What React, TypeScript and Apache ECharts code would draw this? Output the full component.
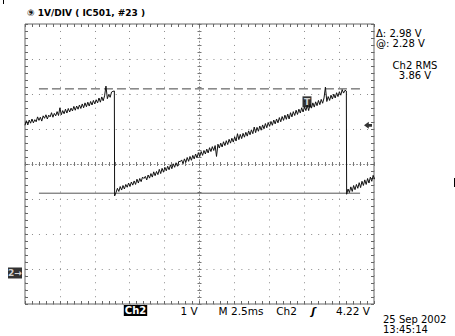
import React, { useEffect, useRef } from "react";
import * as echarts from "echarts";

// ---- data ----
const SAMPLE_STEP_MS = 0.1;
const rampAStartMs = 0;
const rampAVolts = [
  4.22, 4.35, 4.23, 4.37, 4.28, 4.4, 4.29, 4.38, 4.32, 4.46, 4.36, 4.45, 4.34, 4.49, 4.42, 4.52, 4.4,
  4.51, 4.46, 4.58, 4.45, 4.56, 4.49, 4.61, 4.5, 4.72, 4.52, 4.64, 4.55, 4.68, 4.57, 4.7, 4.6, 4.71,
  4.63, 4.76, 4.65, 4.77, 4.68, 4.8, 4.7, 4.83, 4.72, 4.86, 4.75, 4.88, 4.77, 4.9, 4.8, 4.93, 4.83,
  4.95, 4.86, 5.0, 4.88, 5.03, 4.92, 5.06, 5.34, 4.98, 5.1, 5.02, 5.17, 5.19, 5.2,
];
const rampBStartMs = 6.42;
const rampBVolts = [
  2.2, 2.3, 2.42, 2.33, 2.47, 2.37, 2.5, 2.4, 2.53, 2.45, 2.57, 2.47, 2.6, 2.51, 2.63, 2.53, 2.68,
  2.57, 2.7, 2.61, 2.74, 2.7, 2.76, 2.66, 2.8, 2.71, 2.84, 2.74, 2.89, 2.78, 2.9, 2.81, 2.96, 2.84,
  2.99, 2.88, 3.02, 2.92, 3.05, 2.95, 3.09, 2.98, 3.12, 3.02, 3.15, 3.05, 3.19, 3.18, 3.23, 3.12,
  3.26, 3.16, 3.3, 3.19, 3.33, 3.22, 3.36, 3.26, 3.4, 3.29, 3.44, 3.33, 3.47, 3.36, 3.5, 3.4, 3.54,
  3.43, 3.58, 3.47, 3.61, 3.5, 3.64, 3.33, 3.68, 3.57, 3.71, 3.6, 3.75, 3.64, 3.78, 3.67, 3.82, 3.71,
  3.85, 3.74, 3.89, 3.77, 3.98, 3.81, 3.96, 3.84, 3.99, 3.88, 4.02, 3.91, 4.06, 3.95, 4.09, 3.98,
  4.17, 4.01, 4.16, 4.05, 4.2, 4.08, 4.23, 4.12, 4.27, 4.15, 4.3, 4.19, 4.33, 4.22, 4.37, 4.26, 4.4,
  4.29, 4.44, 4.32, 4.47, 4.36, 4.51, 4.39, 4.54, 4.4, 4.58, 4.46, 4.61, 4.5, 4.65, 4.53, 4.68, 4.57,
  4.72, 4.6, 4.75, 4.64, 4.79, 4.64, 4.82, 4.71, 4.86, 4.74, 4.89, 4.78, 4.93, 4.81, 4.96, 4.85, 5.0,
  5.31, 4.9, 5.04, 4.93, 5.08, 4.97, 5.11, 5.0, 5.15, 5.04, 5.18, 5.08, 5.24, 5.14, 5.22, 5.2,
];
const rampCStartMs = 23.04;
const rampCVolts = [
  2.25, 2.4, 2.3, 2.46, 2.33, 2.5, 2.38, 2.53, 2.42, 2.58, 2.44, 2.62, 2.5, 2.66, 2.53, 2.7, 2.57,
  2.74, 2.62, 2.79, 2.68,
];

const timeRangeMs = [0, 25];
const voltRange = [-0.886, 7.114];
const cursorSpanMs = [1.0, 24.0];
const cursorLowV = 2.28;
const cursorHighV = 5.26;
const triggerLevelV = 4.22;
const triggerPoint = [20.2, 4.89];
const groundV = 0;

const titleText = "⑨ 1V/DIV ( IC501, #23 )";
const readouts = ["Δ: 2.98 V", "@: 2.28 V"];
const rmsTexts = ["Ch2 RMS", "3.86 V"];
const bottomTexts = ["1 V", "M 2.5ms", "Ch2", "ʃ", "4.22 V"];
const dateTexts = ["25 Sep 2002", "13:45:14"];

function buildSeg(start: number, vals: number[]) {
  return vals.map((v, i) => [+(start + i * SAMPLE_STEP_MS).toFixed(3), v]);
}

const DOT = "#8c8c8c";
const FRAME = "#666";
const FONT = "DejaVu Sans";

export default function App() {
  const ref = useRef<HTMLDivElement>(null);
  useEffect(() => {
    if (!ref.current) return;
    const chart = echarts.init(ref.current, null, { renderer: "svg" });
    const trace = [
      ...buildSeg(rampAStartMs, rampAVolts),
      ...buildSeg(rampBStartMs, rampBVolts),
      ...buildSeg(rampCStartMs, rampCVolts),
    ];
    const hidden = { show: false };
    const frameAxisX = (pos: string, extra: any = {}) => ({
      type: "value",
      min: -5,
      max: 5,
      interval: 1,
      position: pos,
      axisLine: { show: false, onZero: false },
      axisLabel: { show: false },
      axisTick: { show: true, inside: true, length: 3, lineStyle: { color: FRAME } },
      minorTick: { show: true, splitNumber: 5, length: 3, lineStyle: { color: FRAME } },
      splitLine: { show: false },
      ...extra,
    });
    const frameAxisY = (pos: string, extra: any = {}) => ({
      type: "value",
      min: -4,
      max: 4,
      interval: 1,
      position: pos,
      axisLine: { show: false, onZero: false },
      axisLabel: { show: false },
      axisTick: { show: true, inside: true, length: 3, lineStyle: { color: FRAME } },
      minorTick: { show: true, splitNumber: 5, length: 3, lineStyle: { color: FRAME } },
      splitLine: { show: false },
      ...extra,
    });
    const dotted = { show: true, lineStyle: { color: DOT, width: 1, type: [1, 5.98] } };
    const centerLine = {
      show: true,
      onZero: true,
      onZeroAxisIndex: 0,
      lineStyle: { color: DOT, width: 1, type: [1, 2.49] },
    };
    const centerTick = { show: true, inside: false, length: 2, lineStyle: { color: "#777" } };
    const centerMinor = { show: true, splitNumber: 5, length: 2, lineStyle: { color: "#777" } };

    const option: any = {
      animation: false,
      backgroundColor: "#fff",
      grid: {
        left: 25,
        top: 24,
        width: 349,
        height: 280,
        show: true,
        borderColor: FRAME,
        borderWidth: 1,
        backgroundColor: "transparent",
      },
      xAxis: [
        frameAxisX("bottom", { splitLine: dotted }),
        frameAxisX("top"),
        frameAxisX("bottom", { axisLine: centerLine, axisTick: centerTick, minorTick: centerMinor }),
        frameAxisX("top", {
          axisLine: { show: false, onZero: true, onZeroAxisIndex: 0 },
          axisTick: centerTick,
          minorTick: centerMinor,
        }),
        {
          type: "value",
          min: timeRangeMs[0],
          max: timeRangeMs[1],
          show: false,
          axisLine: { onZero: false },
          splitLine: hidden,
        },
      ],
      yAxis: [
        frameAxisY("left", { splitLine: dotted }),
        frameAxisY("right"),
        frameAxisY("left", { axisLine: centerLine, axisTick: centerTick, minorTick: centerMinor }),
        frameAxisY("right", {
          axisLine: { show: false, onZero: true, onZeroAxisIndex: 0 },
          axisTick: centerTick,
          minorTick: centerMinor,
        }),
        {
          type: "value",
          min: voltRange[0],
          max: voltRange[1],
          show: false,
          axisLine: { onZero: false },
          splitLine: hidden,
        },
      ],
      series: [
        {
          type: "line",
          xAxisIndex: 4,
          yAxisIndex: 4,
          data: [
            [cursorSpanMs[0], cursorLowV],
            [cursorSpanMs[1], cursorLowV],
          ],
          showSymbol: false,
          silent: true,
          lineStyle: { color: "#555", width: 1 },
        },
        {
          type: "line",
          xAxisIndex: 4,
          yAxisIndex: 4,
          data: [
            [cursorSpanMs[0], cursorHighV],
            [cursorSpanMs[1], cursorHighV],
          ],
          showSymbol: false,
          silent: true,
          lineStyle: { color: "#444", width: 1, type: [9, 4] },
        },
        {
          type: "line",
          xAxisIndex: 4,
          yAxisIndex: 4,
          data: trace,
          showSymbol: false,
          silent: true,
          lineStyle: { color: "#111", width: 1 },
        },
        {
          type: "scatter",
          xAxisIndex: 4,
          yAxisIndex: 4,
          data: [[timeRangeMs[1], triggerLevelV]],
          symbol: "path://M0,5 L6,0 L6,3 L10,3 L10,7 L6,7 L6,10 Z",
          symbolSize: [8, 7],
          symbolOffset: [-6, 0],
          itemStyle: { color: "#000" },
          clip: false,
          silent: true,
        },
        {
          type: "scatter",
          xAxisIndex: 4,
          yAxisIndex: 4,
          data: [[timeRangeMs[0], groundV]],
          symbol: "rect",
          symbolSize: [14, 11],
          symbolOffset: [-10, 0],
          itemStyle: { color: "#000" },
          clip: false,
          silent: true,
          label: {
            show: true,
            position: "inside",
            formatter: "2→",
            color: "#fff",
            fontFamily: FONT,
            fontSize: 9,
            fontWeight: "bold",
          },
        },
        {
          type: "scatter",
          xAxisIndex: 4,
          yAxisIndex: 4,
          data: [triggerPoint],
          symbol: "rect",
          symbolSize: [9, 11],
          itemStyle: { color: "#000" },
          silent: true,
          label: {
            show: true,
            position: "inside",
            formatter: "T",
            color: "#fff",
            fontFamily: FONT,
            fontSize: 9,
            fontWeight: "bold",
          },
        },
      ],
      graphic: [
        {
          type: "text",
          left: 27,
          top: 8,
          style: { text: titleText, font: `bold 9px ${FONT}`, fill: "#000" },
        },
        ...readouts.map((t, i) => ({
          type: "text",
          x: 376,
          y: 33 + i * 10,
          style: {
            text: t,
            font: `10px ${FONT}`,
            lineHeight: 9,
            fill: "#000",
            verticalAlign: "middle",
          },
        })),
        ...rmsTexts.map((t, i) => ({
          type: "text",
          x: 415,
          y: 65 + i * 10,
          style: {
            text: t,
            font: `10px ${FONT}`,
            lineHeight: 9,
            fill: "#000",
            align: "center",
            verticalAlign: "middle",
          },
        })),
        {
          type: "text",
          x: 135.5,
          y: 310.5,
          style: {
            text: "Ch2",
            font: `bold 10px ${FONT}`,
            fill: "#fff",
            backgroundColor: "#000",
            padding: [1, 1, 0, 1],
            align: "center",
            verticalAlign: "middle",
          },
        },
        ...bottomTexts.map((t, i) => ({
          type: "text",
          x: [189, 241, 286.5, 313.5, 353][i],
          y: 310.5,
          style: {
            text: t,
            font: `${i === 3 ? "bold italic " : ""}10.5px ${FONT}`,
            fill: "#000",
            align: "center",
            verticalAlign: "middle",
          },
        })),
        ...dateTexts.map((t, i) => ({
          type: "text",
          x: 383,
          y: 319.5 + i * 9.5,
          style: {
            text: t,
            font: `10px ${FONT}`,
            lineHeight: 9,
            fill: "#000",
            verticalAlign: "middle",
          },
        })),
        {
          type: "line",
          shape: { x1: 454.5, y1: 178, x2: 454.5, y2: 187 },
          style: { stroke: "#000", lineWidth: 1 },
        },
        {
          type: "line",
          shape: { x1: 3.5, y1: 0, x2: 3.5, y2: 4 },
          style: { stroke: "#000", lineWidth: 1 },
        },
      ],
    };
    chart.setOption(option);
    return () => chart.dispose();
  }, []);
  return (
    <div
      ref={ref}
      style={{ position: "absolute", left: 0, top: 0, width: 455, height: 336, background: "#fff" }}
    />
  );
}
